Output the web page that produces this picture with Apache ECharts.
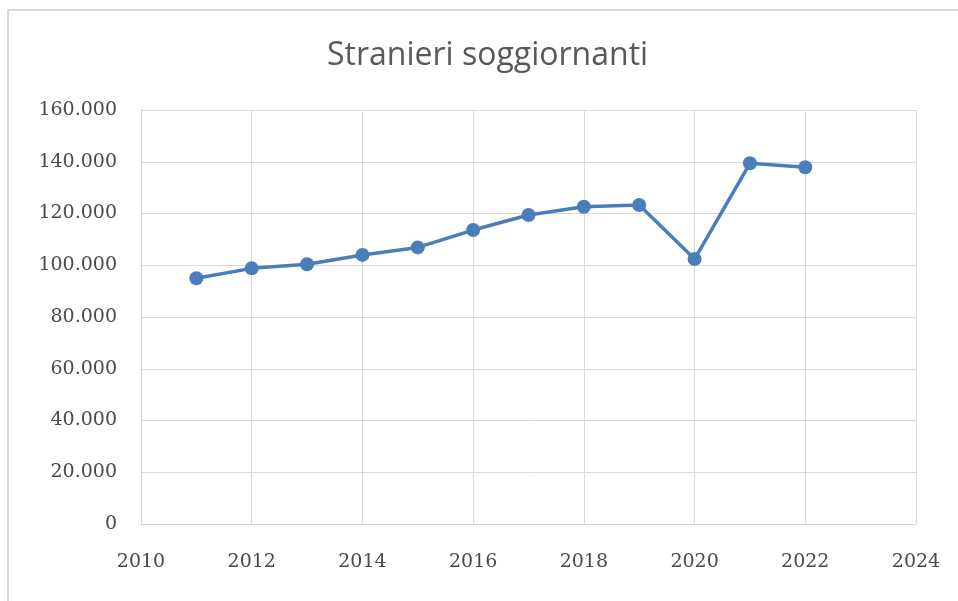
<!DOCTYPE html>
<html>
<head>
<meta charset="utf-8">
<script src="https://cdn.jsdelivr.net/npm/echarts@6/dist/echarts.min.js"></script>
<style>
html,body{margin:0;padding:0;background:#fff;}
#chart{width:958px;height:601px;}
</style>
</head>
<body>
<div id="chart"></div>
<script>
var years = [2011, 2012, 2013, 2014, 2015, 2016, 2017, 2018, 2019, 2020, 2021, 2022];
var stranieri = [95000, 98800, 100400, 104000, 106900, 113600, 119400, 122600, 123300, 102400, 139400, 137900];
var titleText = 'Stranieri soggiornanti';

var chart = echarts.init(document.getElementById('chart'));
function fmt(v){
  return String(v).replace(/\B(?=(\d{3})+(?!\d))/g, '.');
}
chart.setOption({
  animation: false,
  backgroundColor: '#fff',
  title: {
    text: titleText,
    left: 322,
    top: 35,
    textStyle: {fontFamily: 'Open Sans', fontWeight: 'normal', fontSize: 32, color: '#595959'}
  },
  graphic: [{
    type: 'rect',
    shape: {x: 8, y: 10, width: 1000, height: 700},
    style: {fill: 'none', stroke: '#d9d9d9', lineWidth: 2},
    silent: true
  }],
  grid: {left: 141, right: 42, top: 110, bottom: 77},
  xAxis: {
    type: 'value',
    min: 2010, max: 2024, interval: 2,
    axisLine: {show: true, lineStyle: {color: '#d0d0d0', width: 1}},
    axisTick: {show: false},
    splitLine: {show: true, lineStyle: {color: '#d9d9d9', width: 1}},
    axisLabel: {margin: 29, fontFamily: 'DejaVu Serif', fontSize: 19, color: '#4a4a4a', formatter: function(v){return String(v);}}
  },
  yAxis: {
    type: 'value',
    min: 0, max: 160000, interval: 20000,
    axisLine: {show: true, lineStyle: {color: '#d0d0d0', width: 1}},
    axisTick: {show: false},
    splitLine: {show: true, lineStyle: {color: '#d9d9d9', width: 1}},
    axisLabel: {margin: 24, fontFamily: 'DejaVu Serif', fontSize: 19, color: '#4a4a4a', formatter: fmt}
  },
  series: [{
    type: 'line',
    data: years.map(function(y, i){ return [y, stranieri[i]]; }),
    symbol: 'circle',
    symbolSize: 14,
    lineStyle: {color: '#4a7ebb', width: 3.5},
    itemStyle: {color: '#4a7ebb'}
  }]
});
</script>
</body>
</html>
